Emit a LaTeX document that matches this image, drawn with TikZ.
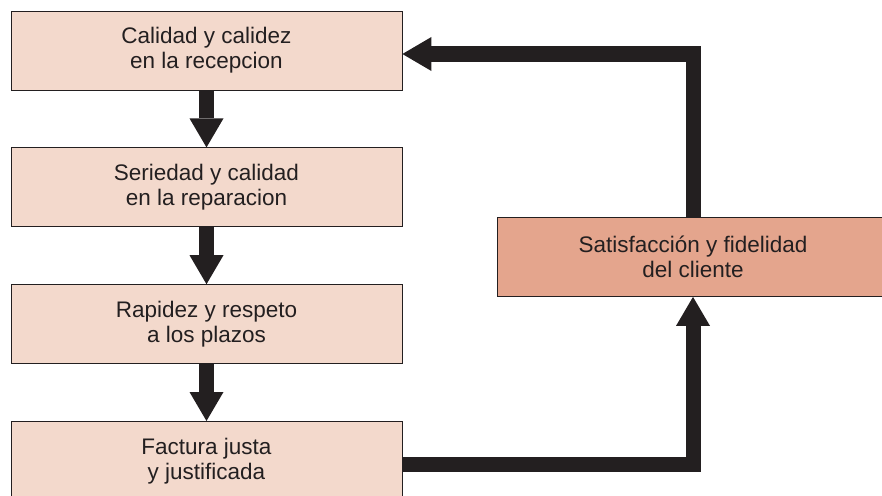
\documentclass[tikz,border=0pt]{standalone}
\usepackage{fontspec}
\setmainfont{Liberation Sans}
\usetikzlibrary{arrows.meta,positioning}
\definecolor{boxfill}{RGB}{243, 217, 204}
\definecolor{goalfill}{RGB}{228, 165, 141}
\definecolor{ink}{RGB}{35, 31, 32}
\tikzstyle{flow} = [
    line width=15pt,
    line join=miter,
    draw=ink,
    -{Triangle[length=29pt,width=34pt,line width=0pt]}
]
\tikzstyle{stage} = [
    rectangle,
    minimum width=391pt,
    minimum height=79pt,
    align=center,
    line width=0.8pt,
    draw=ink,
    fill=boxfill,
    text=ink,
    font=\fontsize{22.5}{25}\selectfont
]
\tikzstyle{goal} = [
    stage,
    fill=goalfill
]

\begin{document}
\begin{tikzpicture}[node distance=57pt]
    \useasboundingbox (0pt,0pt) rectangle (882pt,-495pt);
    \node[stage] (recepcion) at (206.5pt,-50.5pt) {Calidad y calidez\\ en la recepcion};
    \node[stage, below=of recepcion] (reparacion) {Seriedad y calidad\\ en la reparacion};
    \node[stage, below=of reparacion] (plazos) {Rapidez y respeto\\ a los plazos};
    \node[stage, below=of plazos] (factura) {Factura justa\\ y justificada};
    \node[goal] (cliente) at (693pt,-257pt) {Satisfacción y fidelidad\\ del cliente};

    \draw[flow] (recepcion) -- (reparacion);
    \draw[flow] (reparacion) -- (plazos);
    \draw[flow] (plazos) -- (factura);
    \draw[flow] ([yshift=-3.5pt]factura.east) -| (cliente.south);
    \draw[flow] (cliente.north) |- ([yshift=-3.5pt]recepcion.east);
\end{tikzpicture}
\end{document}
